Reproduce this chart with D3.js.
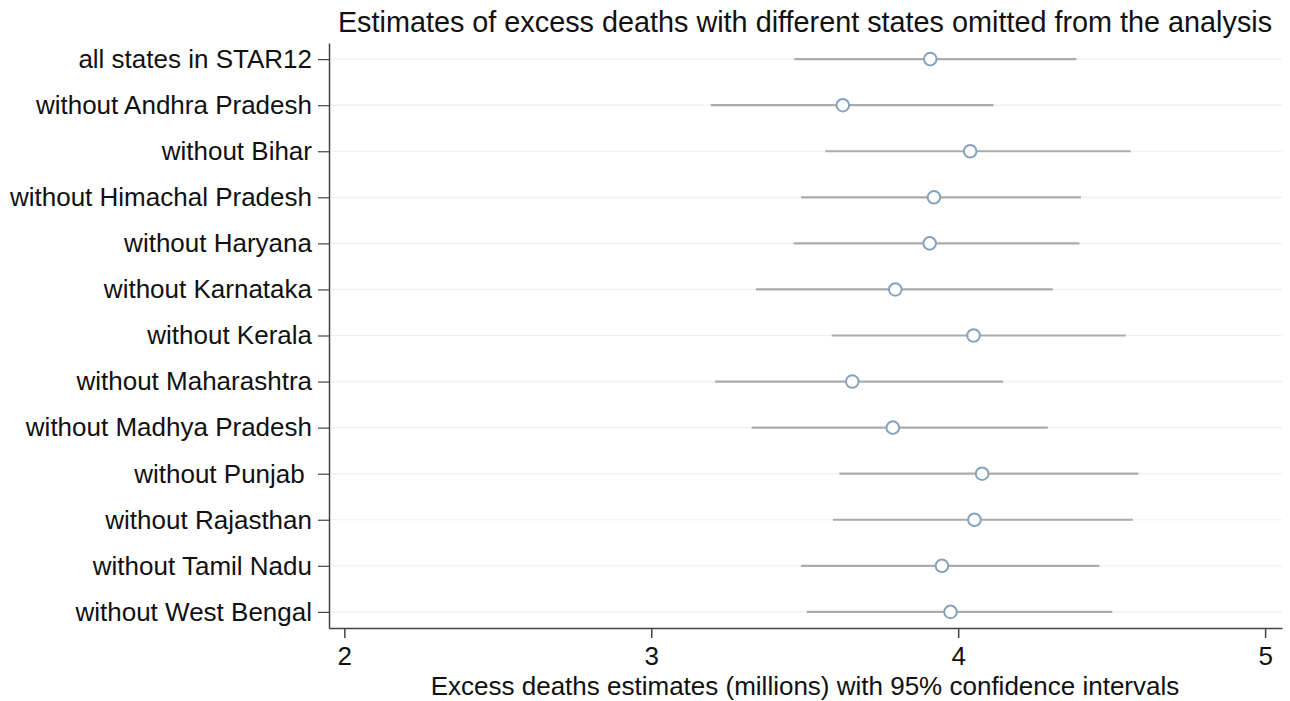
<!DOCTYPE html>
<html>
<head>
<meta charset="utf-8">
<script src="https://cdn.jsdelivr.net/npm/d3@7"></script>
<style>
  body { margin: 0; background: #fff; }
  svg text { font-family: "Liberation Sans", Arial, Helvetica, sans-serif; fill: #111; }
</style>
</head>
<body>
<div id="chart"></div>
<script>
const labels = [
    'all states in STAR12',
    'without Andhra Pradesh',
    'without Bihar',
    'without Himachal Pradesh',
    'without Haryana',
    'without Karnataka',
    'without Kerala',
    'without Maharashtra',
    'without Madhya Pradesh',
    'without Punjab ',
    'without Rajasthan',
    'without Tamil Nadu',
    'without West Bengal'
];
const estimates = [3.909, 3.624, 4.039, 3.921, 3.907, 3.795, 4.050, 3.655, 3.787, 4.078, 4.053, 3.947, 3.975];
const lower = [3.466, 3.194, 3.567, 3.488, 3.464, 3.341, 3.588, 3.208, 3.327, 3.613, 3.592, 3.488, 3.507];
const upper = [4.385, 4.115, 4.562, 4.400, 4.395, 4.308, 4.546, 4.146, 4.292, 4.587, 4.569, 4.460, 4.502];
const xTicks = [2, 3, 4, 5];

const width = 1290, height = 701;
const plotLeft = 329, plotRight = 1282, plotTop = 43, plotBottom = 628;

const svg = d3.select('#chart').append('svg').attr('width', width).attr('height', height);

const x = d3.scaleLinear().domain([1.95, 5.055]).range([plotLeft, plotRight]);
const y = d3.scalePoint().domain(labels).range([plotTop, plotBottom]).padding(0.35);

const rows = labels.map((l, i) => ({ label: l, est: estimates[i], lo: lower[i], hi: upper[i] }));

// light gridlines
svg.append('g')
    .selectAll('line')
    .data(labels)
    .enter()
    .append('line')
    .attr('x1', plotLeft).attr('x2', plotRight)
    .attr('y1', d => y(d)).attr('y2', d => y(d))
    .attr('stroke', '#eaf1f3').attr('stroke-width', 1.2);

// confidence intervals
svg.append('g')
    .selectAll('line')
    .data(rows)
    .enter()
    .append('line')
    .attr('x1', d => x(d.lo)).attr('x2', d => x(d.hi))
    .attr('y1', d => y(d.label)).attr('y2', d => y(d.label))
    .attr('stroke', '#a9abad').attr('stroke-width', 2.2);

// estimates
svg.append('g')
    .selectAll('circle')
    .data(rows)
    .enter()
    .append('circle')
    .attr('cx', d => x(d.est)).attr('cy', d => y(d.label))
    .attr('r', 6.3)
    .attr('fill', '#fff')
    .attr('stroke', '#86a2bc').attr('stroke-width', 2);

// axes
const xAxis = svg.append('g')
    .attr('transform', `translate(0, ${plotBottom})`)
    .call(d3.axisBottom(x).tickValues(xTicks).tickSize(10).tickSizeOuter(0).tickPadding(9).tickFormat(d3.format('d')));
xAxis.select('.domain').attr('stroke', '#444').attr('stroke-width', 1.5);
xAxis.selectAll('.tick line').attr('stroke', '#444').attr('stroke-width', 1.5);
xAxis.selectAll('.tick text').attr('font-size', 26).attr('fill', '#111')
    .style('font-family', '"Liberation Sans", Arial, sans-serif');

const yAxis = svg.append('g')
    .attr('transform', `translate(${plotLeft}, 0)`)
    .call(d3.axisLeft(y).tickSize(11).tickSizeOuter(0).tickPadding(6));
yAxis.select('.domain').attr('stroke', '#444').attr('stroke-width', 1.5);
yAxis.selectAll('.tick line').attr('stroke', '#444').attr('stroke-width', 1.2);
yAxis.selectAll('.tick text').attr('font-size', 26).attr('fill', '#111')
    .style('white-space', 'pre')
    .style('font-family', '"Liberation Sans", Arial, sans-serif');

// title and axis title
svg.append('text')
    .attr('x', 805).attr('y', 32)
    .attr('text-anchor', 'middle')
    .attr('font-size', 28.8)
    .text('Estimates of excess deaths with different states omitted from the analysis');

svg.append('text')
    .attr('x', 805).attr('y', 695)
    .attr('text-anchor', 'middle')
    .attr('font-size', 26)
    .text('Excess deaths estimates (millions) with 95% confidence intervals');
</script>
</body>
</html>
